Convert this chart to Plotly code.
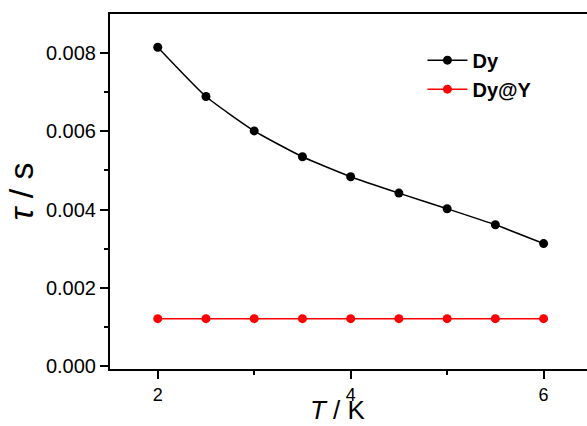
import plotly.graph_objects as go

T = [2.0, 2.5, 3.0, 3.5, 4.0, 4.5, 5.0, 5.5, 6.0]
tau_dy = [0.00815, 0.00689, 0.00601, 0.00535, 0.00484, 0.00442, 0.00402, 0.00361, 0.00313]
tau_dyy = [0.00121, 0.00121, 0.00121, 0.00121, 0.00121, 0.00121, 0.00121, 0.00121, 0.00121]
names = ["Dy", "Dy@Y"]
colors = ["#000000", "#ff0000"]

fig = go.Figure()
for name, ys, c in zip(names, [tau_dy, tau_dyy], colors):
    fig.add_trace(go.Scatter(
        x=T, y=ys, name=name, mode="lines+markers",
        line=dict(color=c, width=1.5, shape="spline", smoothing=0.5),
        marker=dict(color=c, size=9),
    ))

font_family = "Liberation Sans, Arial, sans-serif"
fig.update_layout(
    width=587, height=426,
    margin=dict(l=110, r=0, t=14, b=57),
    paper_bgcolor="white", plot_bgcolor="white",
    font=dict(family=font_family, color="black", size=18),
    showlegend=True,
    legend=dict(x=0.655, y=0.925, xanchor="left", yanchor="top",
                bgcolor="rgba(0,0,0,0)", font=dict(size=20, family=font_family, weight="bold"),
                tracegroupgap=0, itemwidth=40),
    xaxis=dict(
        range=[1.505, 6.45], showgrid=False, zeroline=False, automargin=False,
        showline=True, linecolor="black", linewidth=2, mirror=True,
        ticks="outside", ticklen=8, tickwidth=2, tickcolor="black",
        tickvals=[2, 4, 6], ticktext=["2", "4", "6"],
        minor=dict(ticks="outside", ticklen=4, tickwidth=2, tickcolor="black", tickvals=[3, 5]),
        tickfont=dict(size=18),
    ),
    yaxis=dict(
        range=[-0.000077, 0.009], showgrid=False, zeroline=False, automargin=False,
        showline=True, linecolor="black", linewidth=2,
        ticks="outside", ticklen=8, tickwidth=2, tickcolor="black",
        tickvals=[0, 0.002, 0.004, 0.006, 0.008],
        ticktext=["0.000", "0.002", "0.004", "0.006", "0.008"],
        minor=dict(ticks="outside", ticklen=4, tickwidth=2, tickcolor="black",
                   tickvals=[0.001, 0.003, 0.005, 0.007]),
        tickfont=dict(size=20),
        title=dict(text="<i>τ</i> / s", font=dict(size=34), standoff=2),
    ),
    annotations=[dict(
        text="<i>T</i> / K", xref="x", yref="paper", x=3.87, y=0,
        xanchor="center", yanchor="bottom", yshift=-58, showarrow=False,
        font=dict(size=26, family=font_family, color="black"),
    )],
)

fig.write_html("out.html")
